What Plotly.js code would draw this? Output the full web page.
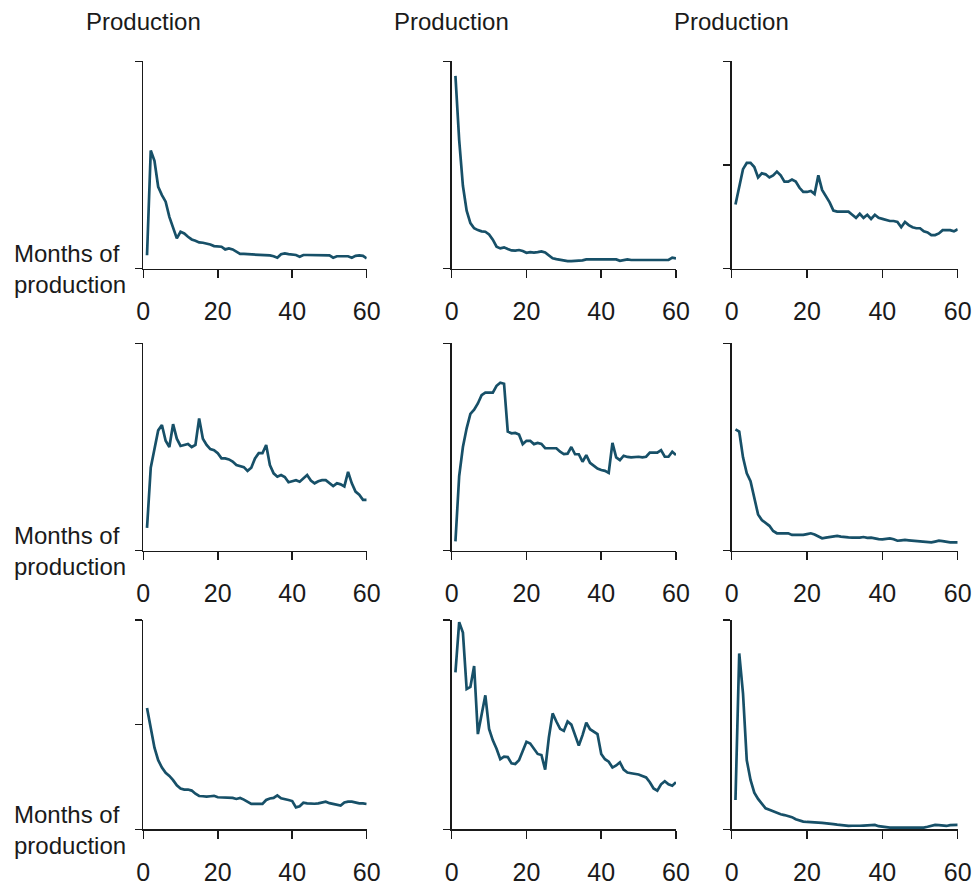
<!DOCTYPE html>
<html>
<head>
<meta charset="utf-8">
<script src="https://cdn.plot.ly/plotly-3.0.1.min.js"></script>
<style>
  html, body { margin: 0; padding: 0; background: #ffffff; }
  #chart { width: 979px; height: 886px; }
</style>
</head>
<body>
<div id="chart"></div>
<script>
// Months since start of production
const months = Array.from({length: 60}, (_, i) => i + 1);
const xTickVals = [0, 20, 40, 60];
const xTickText = ["0", "20", "40", "60"];
const columnTitle = "Production";
const rowAxisLabel = "Months of<br>production";

// Production, indexed to each panel's axis maximum (=100)
const prodR1C1 = [6.5, 57, 52, 39.5, 35.5, 32.3, 25, 20.3, 14.6, 17.8,
  17, 15.4, 14.1, 13.5, 12.7, 12.5, 12.2, 11.7, 10.9, 10.6,
  10.6, 9.3, 9.8, 9.3, 8.2, 7.1, 7.1, 7.0, 7.0, 7.0,
  6.8, 6.6, 6.5, 6.4, 6.0, 5.3, 7.0, 7.4, 7.0, 6.8,
  6.6, 5.8, 6.6, 6.6, 6.6, 6.6, 6.6, 6.6, 6.5, 6.4,
  5.3, 6.0, 6.0, 6.0, 6.0, 5.3, 6.2, 6.4, 6.2, 5.0];
const prodR1C2 = [93, 62, 40, 28, 22, 19.5, 18.6, 18, 17.8, 16.5,
  14, 10.6, 9.8, 10.3, 9.5, 8.8, 8.7, 9, 8.5, 7.7,
  8, 7.8, 8, 8.3, 7.8, 6.5, 5, 4.6, 4.2, 4.0,
  3.7, 3.7, 3.7, 3.7, 4, 4.5, 4.5, 4.5, 4.5, 4.5,
  4.5, 4.5, 4.5, 4.5, 3.8, 4.2, 4.5, 4.2, 4.2, 4.2,
  4.2, 4.2, 4.5, 4.2, 4.2, 4.2, 4.2, 4.2, 5.3, 5.0];
const prodR1C3 = [31, 40, 48, 51, 51, 49, 44, 46, 45.5, 44,
  45, 46.8, 45, 42, 42, 43, 42, 39, 37, 37,
  37.5, 36, 45, 38, 35, 32, 28, 27.5, 27.5, 27.5,
  27.5, 26, 24.5, 26.5, 24.5, 26, 24, 26, 24.5, 24,
  23.5, 23, 23, 22.5, 20, 22.5, 21, 20, 19.5, 19.5,
  18, 17.5, 16.2, 16.2, 17, 18.6, 18.6, 18.6, 18, 19];
const prodR2C1 = [11, 40, 49, 58, 60.6, 53, 50, 61, 54, 50.5,
  51, 51.5, 50, 51, 63.8, 54, 51, 49, 48.5, 47,
  44.5, 44.5, 44, 43, 41.3, 40.8, 40.3, 38.5, 40, 44.5,
  47, 47, 51, 41.3, 37.3, 35.7, 36.5, 35.5, 33, 33.5,
  34, 33.3, 35, 36.5, 33.8, 32.5, 33.5, 34, 34, 32.5,
  31.2, 32.5, 32, 31, 38, 32.5, 28.5, 27, 24.5, 24.5];
const prodR2C2 = [4.5, 36, 50, 59, 66, 68, 71, 75, 76.2, 76.2,
  76.2, 79.5, 81, 80.5, 57.4, 56.6, 56.8, 56, 51.4, 53,
  53, 51.4, 52, 51.5, 49.4, 49.4, 49.4, 49.4, 47.7, 46.6,
  46.8, 50, 46.5, 46.5, 42.9, 46.1, 42.4, 41, 39.6, 38.9,
  38.5, 37.5, 52, 45, 43.7, 45.8, 45.2, 45, 45.3, 45.3,
  45, 45.3, 47.3, 47.3, 47.3, 48.5, 45.3, 45.3, 47.7, 46.1];
const prodR2C3 = [58.5, 57.4, 45, 37.3, 33.5, 25, 17.5, 14.8, 13.5, 12,
  9.5, 8.4, 8.4, 8.4, 8.4, 7.6, 7.6, 7.6, 7.6, 8,
  8.4, 7.8, 6.8, 6, 6.3, 6.5, 7, 7.1, 6.8, 6.5,
  6.4, 6.3, 6.2, 6.3, 6.6, 6.2, 6.3, 5.9, 5.6, 5.5,
  5.6, 5.9, 5.5, 4.8, 5, 5.2, 5, 4.8, 4.8, 4.6,
  4.4, 4.2, 4, 4.4, 4.8, 4.6, 4.2, 4, 4, 4];
const prodR3C1 = [58, 49, 39, 33, 29.5, 27, 25.5, 23.5, 21, 19.5,
  19, 19, 18.5, 17, 15.9, 15.8, 15.6, 15.8, 16, 15.3,
  15.3, 15.3, 15.2, 15, 14.5, 15, 14.2, 13, 12.1, 12.1,
  12.1, 12.1, 14, 14.7, 15, 16.2, 14.8, 14.5, 14, 13.5,
  10.5, 11, 12.7, 12.4, 12.2, 12.2, 12.4, 12.8, 13.2, 12.5,
  12.2, 11.8, 11.3, 12.8, 13.2, 13.2, 12.8, 12.4, 12.4, 12.1];
const prodR3C2 = [75, 99, 94, 67, 68, 78, 45.5, 55, 64, 48,
  42.5, 38.5, 33.5, 34.7, 34.5, 31.5, 31.2, 33, 37.9, 41.8,
  41, 38.5, 36, 35.5, 28.5, 44, 55.4, 51.5, 48, 47,
  51.5, 50, 45, 40, 45, 51, 47.8, 46.8, 45.5, 36,
  33.5, 32.3, 29.5, 30.5, 32, 28.5, 27.1, 26.8, 26.5, 26.2,
  25.5, 24.8, 22.5, 19.5, 18.5, 21.5, 23, 21.5, 20.8, 22.5];
const prodR3C3 = [14, 84, 65, 33, 23.6, 17.5, 14.5, 12, 10, 9.3,
  8.6, 7.8, 7.2, 6.8, 6.3, 5.8, 4.8, 4.2, 3.7, 3.5,
  3.3, 3.2, 3.2, 3.1, 3.0, 2.8, 2.5, 2.2, 2.0, 1.6,
  1.6, 1.7, 1.6, 1.7, 1.8, 2.0, 2.1, 2.1, 1.5, 1.2,
  0.8, 0.8, 0.8, 0.8, 0.8, 0.8, 0.8, 0.8, 0.8, 0.8,
  0.8, 1.2, 1.7, 2.1, 2.0, 1.8, 1.6, 2.0, 2.1, 2.1];

// y tick values per panel (row-major)
const yTicksPanels = [
  [0, 100], [0, 100], [0, 50, 100],
  [0, 100], [0, 100], [0, 100],
  [0, 50, 100], [0, 100], [0, 100]
];
const seriesPanels = [prodR1C1, prodR1C2, prodR1C3,
                      prodR2C1, prodR2C2, prodR2C3,
                      prodR3C1, prodR3C2, prodR3C3];

// ---- layout geometry (pixels) ----
const W = 979, H = 886;
const colPx = [[143.3, 366.7], [451.7, 676.0], [731.7, 957.7]];
const rowPx = [[61.3, 268.7], [343.3, 550.7], [620.0, 829.3]];
const FONT = "Liberation Sans, Arial, Helvetica, sans-serif";
const LINE_COLOR = "#175068";
const AXIS_COLOR = "#1a1a1a";

const traces = [];
const layout = {
  width: W, height: H,
  margin: {l: 0, r: 0, t: 0, b: 0, pad: 0},
  paper_bgcolor: "#ffffff",
  plot_bgcolor: "#ffffff",
  showlegend: false,
  font: {family: FONT, color: "#1a1a1a", size: 24},
  annotations: []
};

for (let r = 0; r < 3; r++) {
  for (let c = 0; c < 3; c++) {
    const k = r * 3 + c + 1;
    const xa = k === 1 ? "xaxis" : "xaxis" + k;
    const ya = k === 1 ? "yaxis" : "yaxis" + k;
    traces.push({
      type: "scatter", mode: "lines",
      x: months, y: seriesPanels[k - 1],
      xaxis: "x" + (k === 1 ? "" : k), yaxis: "y" + (k === 1 ? "" : k),
      line: {color: LINE_COLOR, width: 2.7},
      hoverinfo: "skip"
    });
    layout[xa] = {
      domain: [colPx[c][0] / W, colPx[c][1] / W],
      anchor: "y" + (k === 1 ? "" : k),
      range: [0, 60],
      tickmode: "array", tickvals: xTickVals, ticktext: xTickText,
      ticks: "outside", ticklen: 8, tickwidth: 1.5, tickcolor: AXIS_COLOR,
      showline: true, linecolor: AXIS_COLOR, linewidth: 1.5,
      showgrid: false, zeroline: false,
      tickfont: {family: FONT, size: 25, color: "#1a1a1a"},
      ticklabelstandoff: 12,
      fixedrange: true
    };
    layout[ya] = {
      domain: [1 - rowPx[r][1] / H, 1 - rowPx[r][0] / H],
      anchor: "x" + (k === 1 ? "" : k),
      range: [0, 100],
      tickmode: "array", tickvals: yTicksPanels[k - 1],
      showticklabels: false,
      ticks: "outside", ticklen: 7, tickwidth: 1.5, tickcolor: AXIS_COLOR,
      showline: true, linecolor: AXIS_COLOR, linewidth: 1.5,
      showgrid: false, zeroline: false,
      fixedrange: true
    };
  }
}

// Column titles ("Production") above each y axis of the top row
for (let c = 0; c < 3; c++) {
  layout.annotations.push({
    text: columnTitle, xref: "paper", yref: "paper",
    x: colPx[c][0] / W, y: 1 - 21.7 / H,
    xanchor: "center", yanchor: "middle", showarrow: false,
    font: {family: FONT, size: 24, color: "#1a1a1a"}
  });
}
// Row x-axis labels ("Months of production") left of each x axis
for (let r = 0; r < 3; r++) {
  layout.annotations.push({
    text: rowAxisLabel, xref: "paper", yref: "paper",
    x: 12 / W, y: 1 - (rowPx[r][1] + 0.5) / H,
    xanchor: "left", yanchor: "middle", align: "left", showarrow: false,
    font: {family: FONT, size: 24, color: "#1a1a1a"}
  });
}

Plotly.newPlot("chart", traces, layout, {displayModeBar: false, staticPlot: true});
</script>
</body>
</html>
